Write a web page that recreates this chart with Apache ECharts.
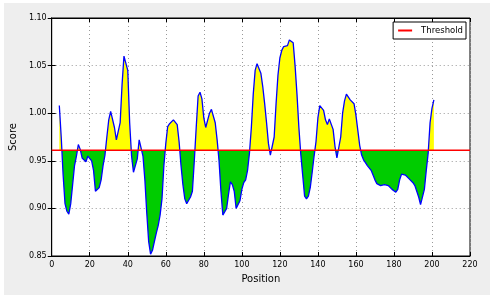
<!DOCTYPE html>
<html>
<head>
<meta charset="utf-8">
<script src="https://cdn.jsdelivr.net/npm/echarts@6/dist/echarts.min.js"></script>
<style>
  html, body { margin: 0; padding: 0; background: #fff; }
  #chart { width: 497px; height: 300px; }
</style>
</head>
<body>
<div id="chart"></div>
<script>
// data
const startPos = 4;
const scores = [
  1.008, 0.975, 0.935, 0.905, 0.897, 0.894, 0.905, 0.925, 0.945, 0.955,
  0.967, 0.962, 0.953, 0.951, 0.949, 0.955, 0.954, 0.950, 0.940, 0.918,
  0.917, 0.922, 0.930, 0.945, 0.956, 0.975, 0.993, 1.002, 1.000, 0.985,
  0.972, 0.970, 0.990, 1.030, 1.060, 1.062, 1.045, 0.990, 0.955, 0.938,
  0.937, 0.952, 0.972, 0.973, 0.955, 0.930, 0.895, 0.865, 0.852, 0.856,
  0.865, 0.874, 0.882, 0.893, 0.910, 0.945, 0.968, 0.986, 0.989, 0.987,
  0.993, 0.994, 0.988, 0.970, 0.945, 0.925, 0.910, 0.905, 0.906, 0.912,
  0.918, 0.950, 0.985, 1.018, 1.022, 1.015, 0.995, 0.985, 0.987, 1.000,
  1.004, 1.003, 0.990, 0.972, 0.950, 0.918, 0.893, 0.891, 0.900, 0.915,
  0.928, 0.925, 0.918, 0.900, 0.900, 0.908, 0.920, 0.927, 0.930, 0.940,
  0.958, 0.985, 1.020, 1.045, 1.052, 1.051, 1.042, 1.028, 1.010, 0.990,
  0.968, 0.956, 0.957, 0.975, 1.010, 1.040, 1.058, 1.066, 1.070, 1.070,
  1.071, 1.077, 1.078, 1.074, 1.050, 1.020, 0.985, 0.957, 0.935, 0.913,
  0.910, 0.913, 0.922, 0.938, 0.955, 0.970, 0.995, 1.008, 1.010, 1.003,
  0.993, 0.988, 0.994, 0.995, 0.983, 0.965, 0.953, 0.955, 0.975, 1.000,
  1.013, 1.020, 1.022, 1.014, 1.012, 1.010, 0.998, 0.982, 0.966, 0.956,
  0.951, 0.948, 0.945, 0.943, 0.940, 0.935, 0.930, 0.926, 0.924, 0.924,
  0.925, 0.925, 0.925, 0.924, 0.923, 0.920, 0.918, 0.917, 0.920, 0.930,
  0.936, 0.938, 0.935, 0.933, 0.931, 0.930, 0.927, 0.924, 0.918, 0.912,
  0.904, 0.905, 0.920, 0.940, 0.958, 0.990, 1.005, 1.014
];
const threshold = 0.961;
const xTicks = { min: 0, max: 220, step: 20 };
const yTicks = { min: 0.85, max: 1.10, step: 0.05 };

const positions = scores.map((v, i) => startPos + i);
const points = scores.map((v, i) => [positions[i], v]);

const gridTop = 18;
const gridBottom = 256;
const cut = (yTicks.max - threshold) / (yTicks.max - yTicks.min);

// hard-stop gradient in pixel space: upper colour above the threshold, lower colour below
function splitColor(upper, lower) {
  return {
    type: "linear",
    x: 0, y: gridTop, x2: 0, y2: gridBottom,
    colorStops: [
      { offset: 0, color: upper },
      { offset: cut, color: upper },
      { offset: cut, color: lower },
      { offset: 1, color: lower },
    ],
    global: true,
  };
}

const font = "DejaVu Sans";
const gridLine = { show: true, lineStyle: { color: "#999", type: [1, 3], width: 1 } };

const chart = echarts.init(document.getElementById("chart"));
chart.setOption({
  backgroundColor: "#fff",
  animation: false,
  textStyle: { fontFamily: font },
  graphic: [
    {
      type: "rect",
      z: -10,
      shape: { x: 4, y: 3, width: 486, height: 292 },
      style: { fill: "#eeeeee" },
    },
  ],
  grid: {
    left: 51,
    right: 27,
    top: gridTop,
    bottom: 300 - gridBottom,
    show: true,
    backgroundColor: "#fff",
    borderColor: "#000",
    borderWidth: 1,
  },
  legend: {
    data: [{ name: "Threshold", icon: "rect" }],
    right: 31,
    top: 22,
    itemWidth: 14,
    itemHeight: 2,
    padding: [4, 3, 4, 5],
    backgroundColor: "#fff",
    borderColor: "#000",
    borderWidth: 1,
    borderRadius: 0,
    textStyle: { fontSize: 8.5, color: "#000", fontFamily: font, padding: [0, 0, 0, 4] },
  },
  xAxis: [
    {
      type: "value",
      min: xTicks.min,
      max: xTicks.max,
      interval: xTicks.step,
      name: "Position",
      nameLocation: "middle",
      nameGap: 18,
      nameTextStyle: { fontSize: 10, color: "#000" },
      axisLine: { show: true, lineStyle: { color: "#000" } },
      axisTick: { show: true, inside: true, length: 4, lineStyle: { color: "#000" } },
      axisLabel: { fontSize: 8, color: "#000", margin: 5 },
      splitLine: gridLine,
    },
    {
      type: "value",
      position: "top",
      min: xTicks.min,
      max: xTicks.max,
      interval: xTicks.step,
      axisLine: { show: true, lineStyle: { color: "#000" } },
      axisTick: { show: true, inside: true, length: 4, lineStyle: { color: "#000" } },
      axisLabel: { show: false },
      splitLine: { show: false },
    },
  ],
  yAxis: [
    {
      type: "value",
      min: yTicks.min,
      max: yTicks.max,
      interval: yTicks.step,
      name: "Score",
      nameLocation: "middle",
      nameGap: 21,
      nameTextStyle: { fontSize: 10, color: "#000" },
      axisLine: { show: true, lineStyle: { color: "#000" } },
      axisTick: { show: true, inside: true, length: 4, lineStyle: { color: "#000" } },
      axisLabel: { fontSize: 8, color: "#000", margin: 5, formatter: (v) => v.toFixed(2) },
      splitLine: gridLine,
    },
    {
      type: "value",
      position: "right",
      min: yTicks.min,
      max: yTicks.max,
      interval: yTicks.step,
      axisLine: { show: true, lineStyle: { color: "#000" } },
      axisTick: { show: true, inside: true, length: 4, lineStyle: { color: "#000" } },
      axisLabel: { show: false },
      splitLine: { show: false },
    },
  ],
  series: [
    {
      // below the curve: yellow only where above the threshold
      name: "fillAbove",
      type: "line",
      data: points,
      symbol: "none",
      silent: true,
      lineStyle: { width: 0, opacity: 0 },
      areaStyle: { origin: "start", color: splitColor("#ffff00", "rgba(0,0,0,0)"), opacity: 1 },
      z: 2,
    },
    {
      // above the curve: green only where below the threshold
      name: "fillBelow",
      type: "line",
      data: points,
      symbol: "none",
      silent: true,
      lineStyle: { width: 0, opacity: 0 },
      areaStyle: { origin: "end", color: splitColor("rgba(0,0,0,0)", "#00cc00"), opacity: 1 },
      z: 2,
    },
    {
      name: "Score",
      type: "line",
      data: points,
      symbol: "none",
      lineStyle: { color: "#0000ff", width: 1.3 },
      z: 3,
    },
    {
      name: "Threshold",
      type: "line",
      data: [[xTicks.min, threshold], [xTicks.max, threshold]],
      symbol: "none",
      color: "#ff0000",
      lineStyle: { color: "#ff0000", width: 1.5 },
      z: 4,
    },
  ],
});
</script>
</body>
</html>
